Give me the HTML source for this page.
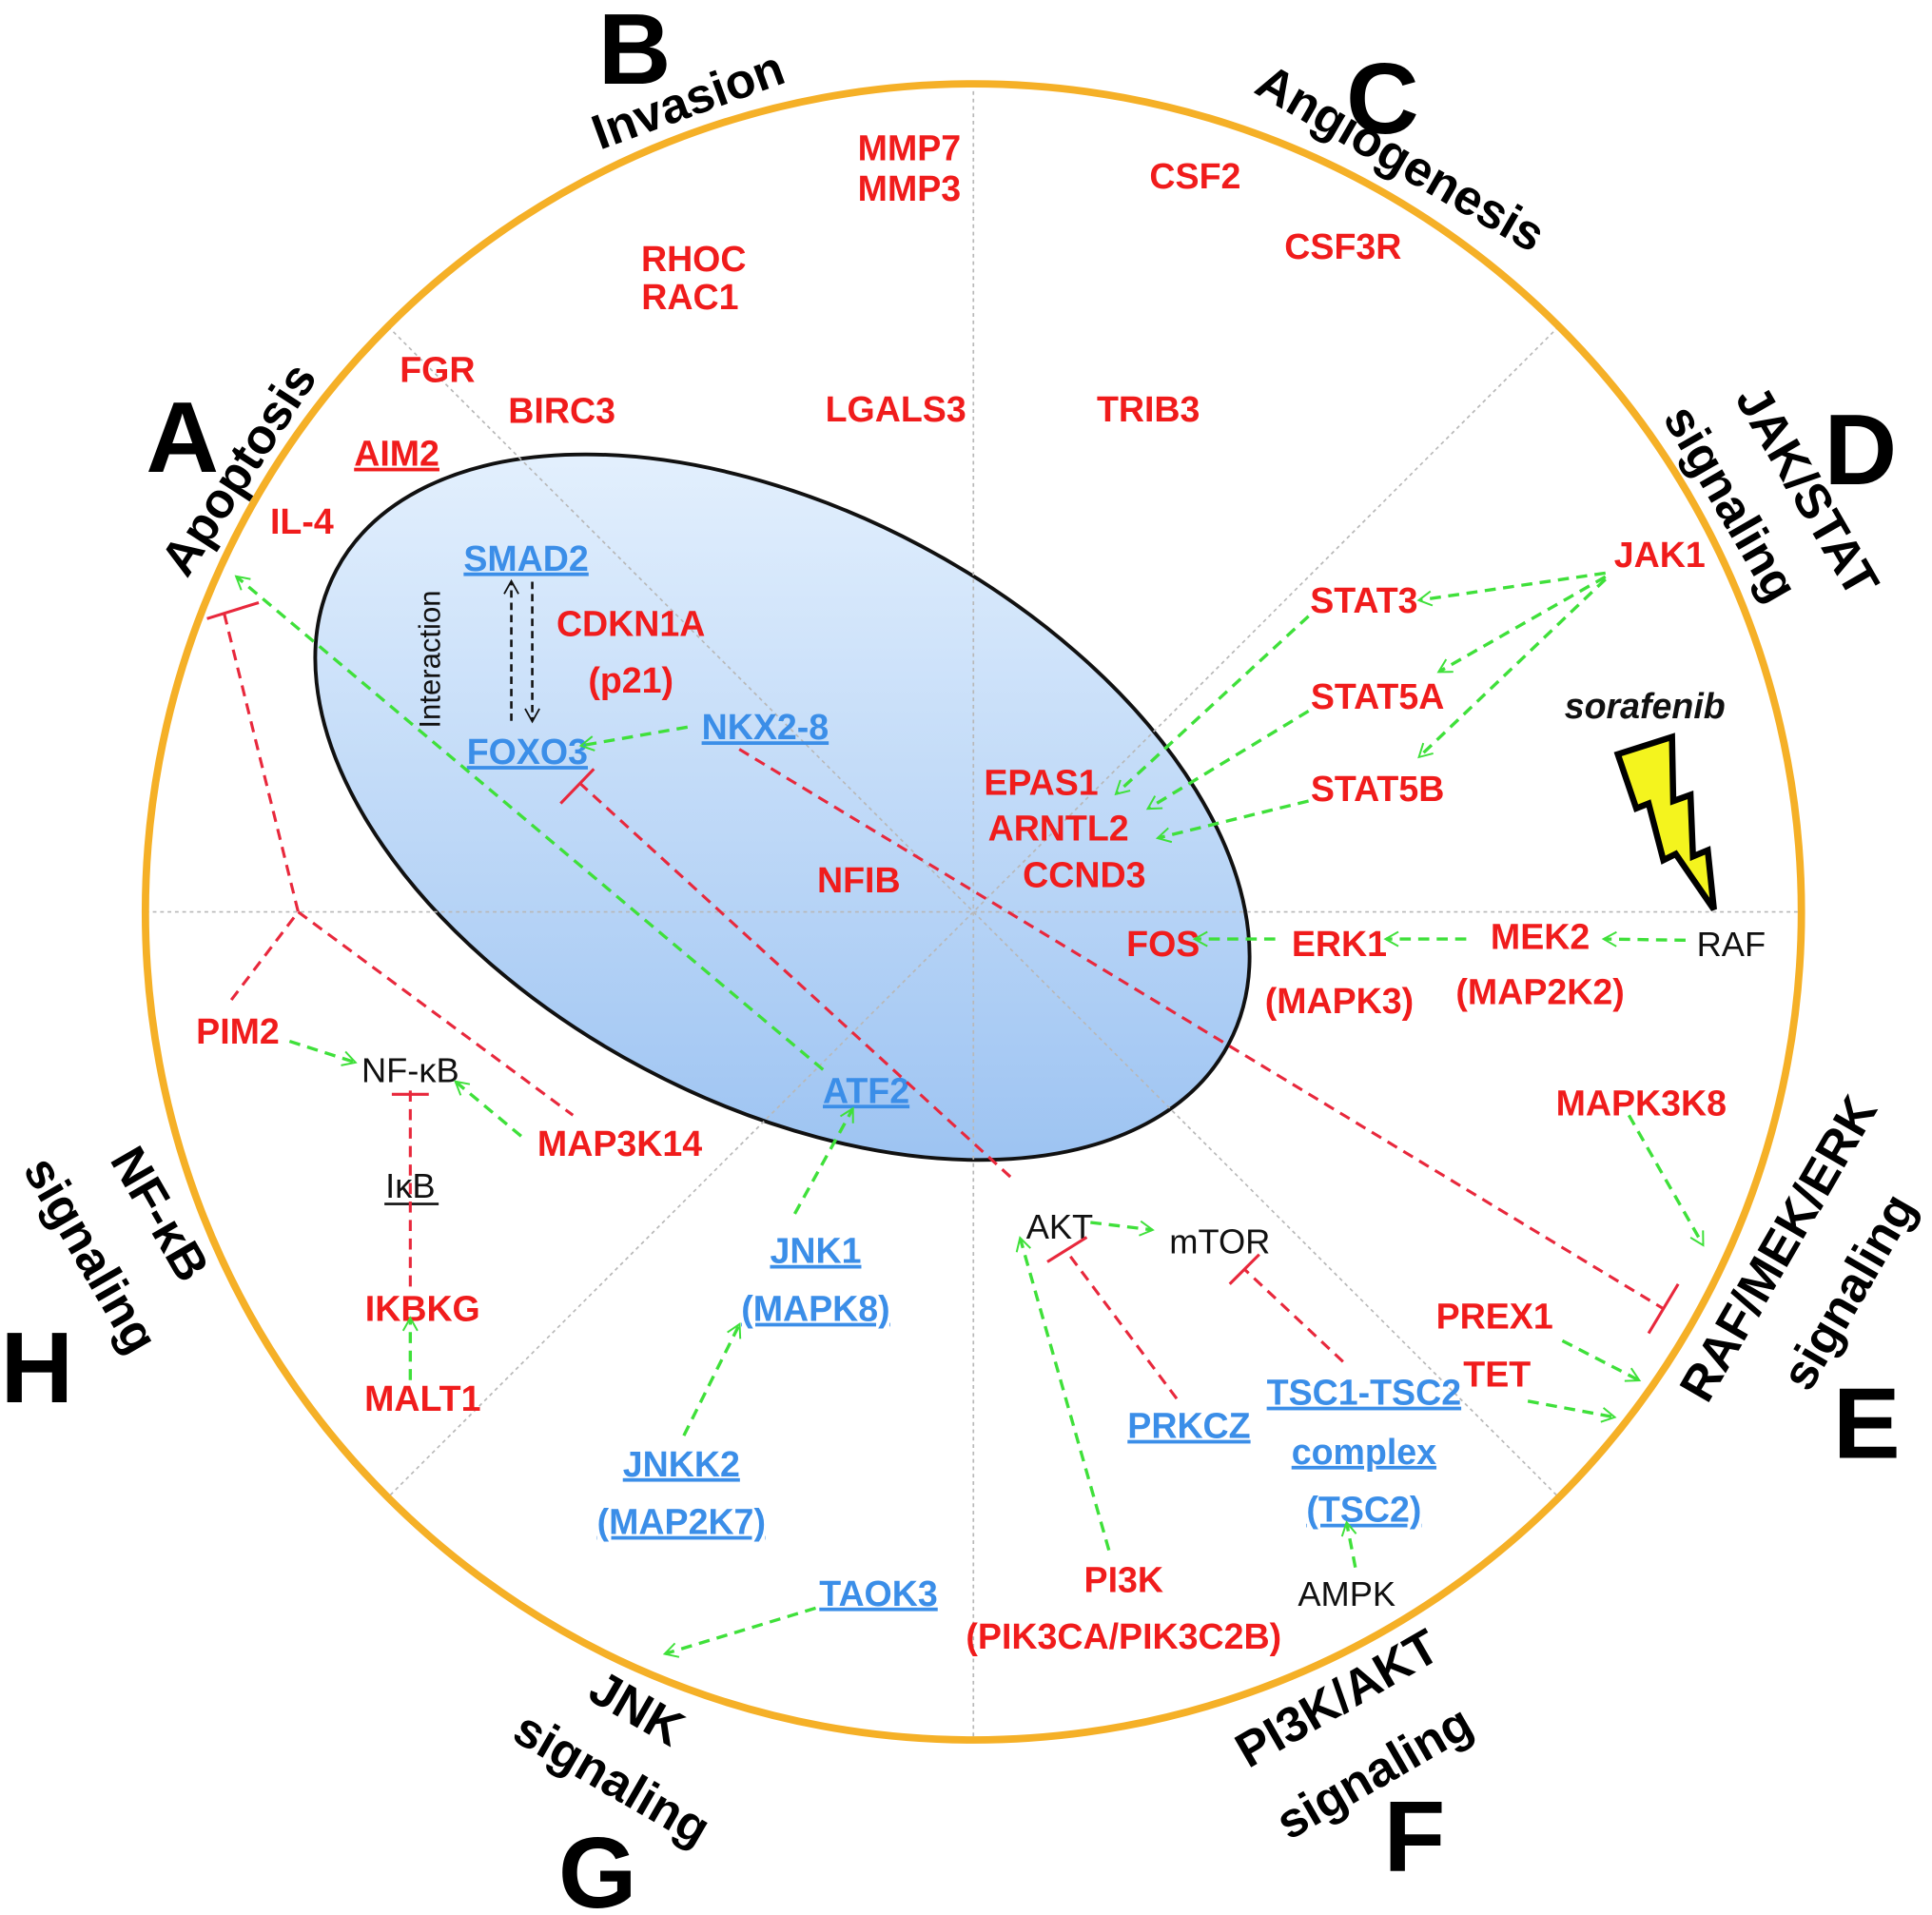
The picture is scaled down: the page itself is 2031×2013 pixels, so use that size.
<!DOCTYPE html>
<html><head><meta charset="utf-8"><style>
html,body{margin:0;padding:0;background:#fff;}
svg{display:block;}
text{font-family:"Liberation Sans",sans-serif;}
.r{fill:#f01c1c;font-weight:bold;font-size:29px;text-anchor:middle;}
.b{fill:#3b8ee8;font-weight:bold;font-size:29px;text-anchor:middle;text-decoration:underline;}
.k{fill:#111;font-size:28px;text-anchor:middle;}
.L{fill:#000;font-weight:bold;font-size:82px;text-anchor:middle;}
.S{fill:#000;font-weight:bold;font-size:40px;text-anchor:middle;}
.g{stroke:#3fe03a;stroke-width:2.6;stroke-dasharray:9 6;fill:none;}
.d{stroke:#e8283c;stroke-width:2.4;stroke-dasharray:9 6;fill:none;}
.t{stroke:#e8283c;stroke-width:2.4;fill:none;}
.gr{stroke:#b8b8b8;stroke-width:1.3;stroke-dasharray:3 3;}
</style></head><body>
<svg width="2031" height="2013" viewBox="0 0 1568 1554" xmlns="http://www.w3.org/2000/svg">
<defs>
<marker id="ga" viewBox="0 0 12 12" refX="11" refY="6" markerWidth="7" markerHeight="7" orient="auto" markerUnits="userSpaceOnUse" style="overflow:visible">
<path d="M-6,-4 L12,6 L-6,16" fill="none" stroke="#3fe03a" stroke-width="2.6"/>
</marker>
<marker id="ka" viewBox="0 0 12 12" refX="11" refY="6" markerWidth="7" markerHeight="7" orient="auto" markerUnits="userSpaceOnUse" style="overflow:visible">
<path d="M-6,-4 L12,6 L-6,16" fill="none" stroke="#111" stroke-width="2.4"/>
</marker>
<linearGradient id="eg" gradientUnits="userSpaceOnUse" x1="635" y1="375" x2="635" y2="935" gradientTransform="rotate(-28 635 655)">
<stop offset="0" stop-color="#e2effd"/><stop offset="1" stop-color="#9ec4f2"/>
</linearGradient>
</defs>
<rect width="1568" height="1554" fill="#fff"/>
<ellipse cx="635" cy="655" rx="410" ry="240" transform="rotate(28 635 655)" fill="url(#eg)" stroke="#111" stroke-width="3"/>
<line class="gr" x1="118" y1="740" x2="1462" y2="740"/>
<line class="gr" x1="790" y1="68" x2="790" y2="1412"/>
<line class="gr" x1="315" y1="265" x2="1265" y2="1215"/>
<line class="gr" x1="1265" y1="265" x2="315" y2="1215"/>
<circle cx="790" cy="740" r="672" fill="none" stroke="#f5b027" stroke-width="6"/>

<text class="L" x="148" y="383">A</text>
<text class="S" transform="translate(205,388) rotate(-57)">Apoptosis</text>
<text class="L" x="515" y="68">B</text>
<text class="S" transform="translate(563,94) rotate(-20)">Invasion</text>
<text class="L" x="1122" y="108">C</text>
<text class="S" transform="translate(1130,140) rotate(30)">Angiogenesis</text>
<text class="L" x="1510" y="393">D</text>
<text class="S" transform="translate(1455,405) rotate(60)">JAK/STAT</text>
<text class="S" transform="translate(1393,415) rotate(60)">signaling</text>
<text class="L" x="1515" y="1183">E</text>
<text class="S" transform="translate(1455,1020) rotate(-60)">RAF/MEK/ERK</text>
<text class="S" transform="translate(1512,1055) rotate(-60)">signaling</text>
<text class="L" x="1148" y="1518">F</text>
<text class="S" transform="translate(1092,1390) rotate(-30)">PI3K/AKT</text>
<text class="S" transform="translate(1122,1450) rotate(-30)">signaling</text>
<text class="L" x="485" y="1548">G</text>
<text class="S" transform="translate(510,1398) rotate(30)">JNK</text>
<text class="S" transform="translate(490,1455) rotate(30)">signaling</text>
<text class="L" x="30" y="1138">H</text>
<text class="S" transform="translate(118,992) rotate(60)">NF-κB</text>
<text class="S" transform="translate(62,1025) rotate(60)">signaling</text>

<text class="r" x="738" y="130">MMP7</text>
<text class="r" x="738" y="163">MMP3</text>
<text class="r" x="970" y="153">CSF2</text>
<text class="r" x="1090" y="210">CSF3R</text>
<text class="r" x="563" y="220">RHOC</text>
<text class="r" x="560" y="251">RAC1</text>
<text class="r" x="355" y="310">FGR</text>
<text class="r" x="456" y="343">BIRC3</text>
<text class="r" x="727" y="342">LGALS3</text>
<text class="r" x="932" y="342">TRIB3</text>
<text class="r" x="322" y="378" text-decoration="underline">AIM2</text>
<text class="r" x="245" y="433">IL-4</text>
<text class="r" x="1347" y="460">JAK1</text>
<text class="r" x="1107" y="497">STAT3</text>
<text class="r" x="1118" y="575">STAT5A</text>
<text class="r" x="1118" y="650">STAT5B</text>
<text class="r" x="512" y="516">CDKN1A</text>
<text class="r" x="512" y="562">(p21)</text>
<text class="r" x="845" y="645">EPAS1</text>
<text class="r" x="859" y="682">ARNTL2</text>
<text class="r" x="880" y="720">CCND3</text>
<text class="r" x="697" y="724">NFIB</text>
<text class="r" x="944" y="776">FOS</text>
<text class="r" x="1087" y="776">ERK1</text>
<text class="r" x="1087" y="822">(MAPK3)</text>
<text class="r" x="1250" y="770">MEK2</text>
<text class="r" x="1250" y="815">(MAP2K2)</text>
<text class="r" x="1332" y="905">MAPK3K8</text>
<text class="r" x="193" y="847">PIM2</text>
<text class="r" x="503" y="938">MAP3K14</text>
<text class="r" x="343" y="1072">IKBKG</text>
<text class="r" x="343" y="1145">MALT1</text>
<text class="r" x="1213" y="1078">PREX1</text>
<text class="r" x="1215" y="1125">TET</text>
<text class="r" x="912" y="1292">PI3K</text>
<text class="r" x="912" y="1338">(PIK3CA/PIK3C2B)</text>

<text class="b" x="427" y="463">SMAD2</text>
<text class="b" x="428" y="620">FOXO3</text>
<text class="b" x="621" y="600">NKX2-8</text>
<text class="b" x="703" y="895">ATF2</text>
<text class="b" x="662" y="1025">JNK1</text>
<text class="b" x="662" y="1072">(MAPK8)</text>
<text class="b" x="553" y="1198">JNKK2</text>
<text class="b" x="553" y="1245">(MAP2K7)</text>
<text class="b" x="713" y="1303">TAOK3</text>
<text class="b" x="965" y="1167">PRKCZ</text>
<text class="b" x="1107" y="1140">TSC1-TSC2</text>
<text class="b" x="1107" y="1188">complex</text>
<text class="b" x="1107" y="1235">(TSC2)</text>

<text class="k" x="1405" y="776">RAF</text>
<text class="k" x="860" y="1005">AKT</text>
<text class="k" x="990" y="1017">mTOR</text>
<text class="k" x="1093" y="1303">AMPK</text>
<text class="k" x="333" y="878">NF-κB</text>
<text class="k" x="333" y="972">IκB</text>
<line x1="312" y1="977" x2="356" y2="977" stroke="#111" stroke-width="2"/>
<text x="1335" y="583" style="font-weight:bold;font-style:italic;font-size:29px;text-anchor:middle;fill:#111">sorafenib</text>
<text transform="translate(357,535) rotate(-90)" style="font-size:24px;text-anchor:middle;fill:#111">Interaction</text>

<polygon points="1313,612 1357,598 1358,650 1372,645 1374,695 1386,690 1391,738 1360,693 1350,698 1338,652 1328,656" fill="#f4f41e" stroke="#000" stroke-width="5"/>

<line x1="415" y1="585" x2="415" y2="472" stroke="#111" stroke-width="2" stroke-dasharray="6 4" marker-end="url(#ka)"/>
<line x1="432" y1="472" x2="432" y2="585" stroke="#111" stroke-width="2" stroke-dasharray="6 4" marker-end="url(#ka)"/>

<g marker-end="url(#ga)">
<line class="g" x1="1303" y1="465" x2="1152" y2="487"/>
<line class="g" x1="1303" y1="468" x2="1168" y2="545"/>
<line class="g" x1="1303" y1="470" x2="1152" y2="614"/>
<line class="g" x1="1062" y1="500" x2="906" y2="644"/>
<line class="g" x1="1062" y1="577" x2="932" y2="656"/>
<line class="g" x1="1062" y1="650" x2="940" y2="680"/>
<line class="g" x1="1368" y1="763" x2="1302" y2="762"/>
<line class="g" x1="1190" y1="762" x2="1125" y2="762"/>
<line class="g" x1="1035" y1="762" x2="970" y2="762"/>
<line class="g" x1="558" y1="590" x2="472" y2="605"/>
<line class="g" x1="668" y1="868" x2="192" y2="468"/>
<line class="g" x1="645" y1="985" x2="692" y2="900"/>
<line class="g" x1="555" y1="1165" x2="600" y2="1075"/>
<line class="g" x1="662" y1="1305" x2="540" y2="1342"/>
<line class="g" x1="235" y1="845" x2="288" y2="862"/>
<line class="g" x1="423" y1="922" x2="370" y2="878"/>
<line class="g" x1="333" y1="1120" x2="333" y2="1070"/>
<line class="g" x1="885" y1="992" x2="935" y2="998"/>
<line class="g" x1="900" y1="1258" x2="828" y2="1005"/>
<line class="g" x1="1100" y1="1272" x2="1093" y2="1236"/>
<line class="g" x1="1322" y1="905" x2="1382" y2="1010"/>
<line class="g" x1="1268" y1="1088" x2="1330" y2="1120"/>
<line class="g" x1="1240" y1="1137" x2="1310" y2="1150"/>
</g>

<polyline class="d" points="182,498 242,740 185,815"/>
<line class="d" x1="242" y1="740" x2="465" y2="905"/>
<line class="t" x1="168" y1="502" x2="210" y2="489"/>
<line class="d" x1="600" y1="608" x2="1350" y2="1062"/>
<line class="t" x1="1338" y1="1082" x2="1362" y2="1042"/>
<line class="d" x1="820" y1="955" x2="470" y2="635"/>
<line class="t" x1="455" y1="652" x2="482" y2="624"/>
<line class="d" x1="955" y1="1135" x2="866" y2="1016"/>
<line class="t" x1="850" y1="1024" x2="882" y2="1004"/>
<line class="d" x1="1090" y1="1105" x2="1010" y2="1030"/>
<line class="t" x1="998" y1="1042" x2="1022" y2="1018"/>
<line class="d" x1="333" y1="885" x2="333" y2="1045"/>
<line class="t" x1="318" y1="888" x2="348" y2="888"/>
</svg>
</body></html>
